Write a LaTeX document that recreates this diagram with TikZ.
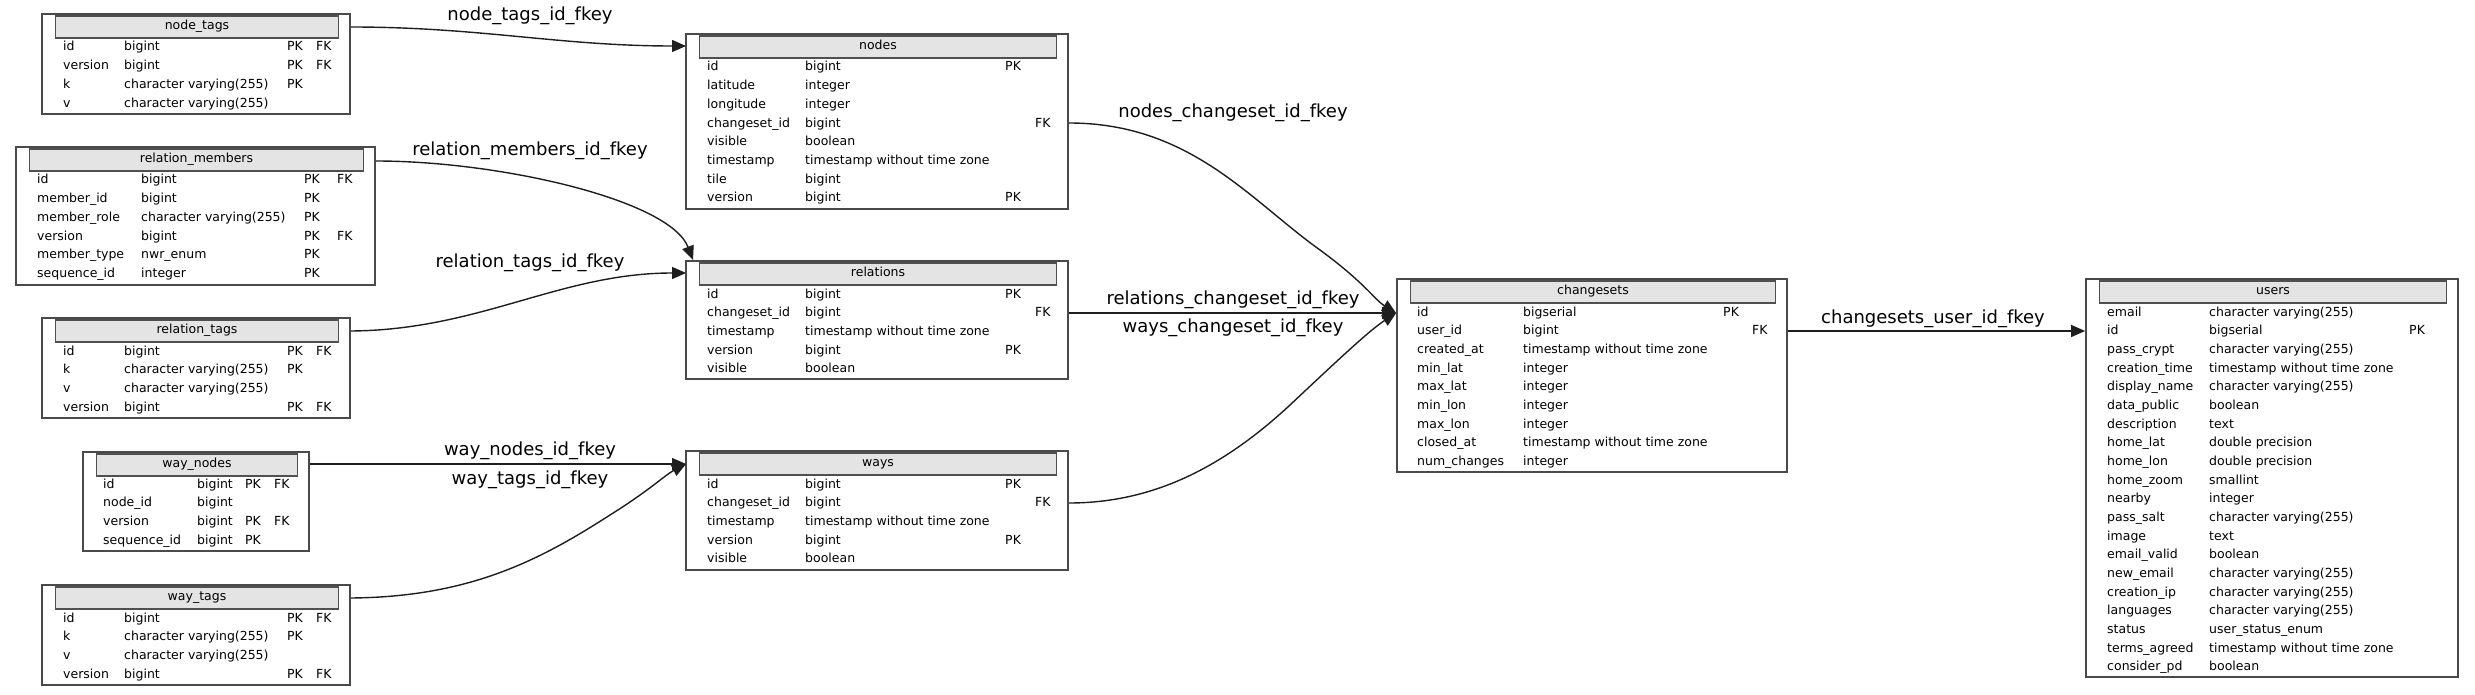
\documentclass[tikz,border=0pt]{standalone}
\usepackage{fontspec}
\setmainfont{DejaVu Sans}
\usetikzlibrary{fit,arrows.meta}
\definecolor{bordergray}{HTML}{4A4A4A}
\definecolor{hdrgray}{HTML}{505050}
\definecolor{hdrfill}{HTML}{E4E4E4}
\definecolor{linecol}{HTML}{1E1E1E}
\tikzset{
  tblbox/.style={draw=bordergray, line width=1.8pt, inner sep=0pt},
  hdrbox/.style={draw=hdrgray, fill=hdrfill, line width=1.8pt, inner sep=0pt},
  cell/.style={anchor=base west, inner sep=0pt, font=\fontsize{12.5}{14}\selectfont},
  ttl/.style={inner sep=0pt, text height=0.75em, text depth=0.25em, font=\fontsize{12.5}{14}\selectfont},
  fkline/.style={draw=linecol, line width=1.4pt, -{Triangle[length=14pt,width=12pt]}},
  fklabel/.style={inner sep=0pt, font=\fontsize{18}{20}\selectfont},
}
\newcommand\tblframe[6]{%
  \node[tblbox, fit={(#2,#3) (#4,#5)}] (#1) {};
  \node[hdrbox, fit={(#2+13.5,#3+2) (#4-11.5,#3+24)}] (#1-hdr) {};
  \node[ttl] (#1-title) at (#1-hdr.center) {#6};
}
\newcommand\trow[6]{%
  \node[cell] (#1-n#2) at (\colN,\rowY+18.68*#2+4) {#3};
  \node[cell] (#1-t#2) at (\colT,\rowY+18.68*#2+4) {#4};
  \if\relax\detokenize{#5}\relax\else\node[cell] (#1-p#2) at (\colP,\rowY+18.68*#2+4) {#5};\fi
  \if\relax\detokenize{#6}\relax\else\node[cell] (#1-f#2) at (\colF,\rowY+18.68*#2+4) {#6};\fi
}
\newcommand\cvar{character varying(255)}
\newcommand\tswtz{timestamp without time zone}
\begin{document}
\begin{tikzpicture}[x=1pt,y=-1pt]
\useasboundingbox (0,0) rectangle (2475,695);

% ---------- node_tags
\tblframe{nodetags}{42}{14}{350}{114}{node\_tags}
\def\colN{63}\def\colT{124}\def\colP{287}\def\colF{316}\def\rowY{47}
\trow{nodetags}{0}{id}{bigint}{PK}{FK}
\trow{nodetags}{1}{version}{bigint}{PK}{FK}
\trow{nodetags}{2}{k}{\cvar}{PK}{}
\trow{nodetags}{3}{v}{\cvar}{}{}

% ---------- relation_members
\tblframe{relmembers}{16}{147}{375}{285}{relation\_members}
\def\colN{37}\def\colT{141}\def\colP{304}\def\colF{337}\def\rowY{180}
\trow{relmembers}{0}{id}{bigint}{PK}{FK}
\trow{relmembers}{1}{member\_id}{bigint}{PK}{}
\trow{relmembers}{2}{member\_role}{\cvar}{PK}{}
\trow{relmembers}{3}{version}{bigint}{PK}{FK}
\trow{relmembers}{4}{member\_type}{nwr\_enum}{PK}{}
\trow{relmembers}{5}{sequence\_id}{integer}{PK}{}

% ---------- relation_tags
\tblframe{reltags}{42}{318}{350}{418}{relation\_tags}
\def\colN{63}\def\colT{124}\def\colP{287}\def\colF{316}\def\rowY{351}
\trow{reltags}{0}{id}{bigint}{PK}{FK}
\trow{reltags}{1}{k}{\cvar}{PK}{}
\trow{reltags}{2}{v}{\cvar}{}{}
\trow{reltags}{3}{version}{bigint}{PK}{FK}

% ---------- way_nodes
\tblframe{waynodes}{83}{452}{309}{551}{way\_nodes}
\def\colN{103}\def\colT{197}\def\colP{245}\def\colF{274}\def\rowY{484}
\trow{waynodes}{0}{id}{bigint}{PK}{FK}
\trow{waynodes}{1}{node\_id}{bigint}{}{}
\trow{waynodes}{2}{version}{bigint}{PK}{FK}
\trow{waynodes}{3}{sequence\_id}{bigint}{PK}{}

% ---------- way_tags
\tblframe{waytags}{42}{585}{350}{685}{way\_tags}
\def\colN{63}\def\colT{124}\def\colP{287}\def\colF{316}\def\rowY{618}
\trow{waytags}{0}{id}{bigint}{PK}{FK}
\trow{waytags}{1}{k}{\cvar}{PK}{}
\trow{waytags}{2}{v}{\cvar}{}{}
\trow{waytags}{3}{version}{bigint}{PK}{FK}

% ---------- nodes
\tblframe{nodes}{686}{34}{1068}{209}{nodes}
\def\colN{707}\def\colT{805}\def\colP{1005}\def\colF{1035}\def\rowY{67}
\trow{nodes}{0}{id}{bigint}{PK}{}
\trow{nodes}{1}{latitude}{integer}{}{}
\trow{nodes}{2}{longitude}{integer}{}{}
\trow{nodes}{3}{changeset\_id}{bigint}{}{FK}
\trow{nodes}{4}{visible}{boolean}{}{}
\trow{nodes}{5}{timestamp}{\tswtz}{}{}
\trow{nodes}{6}{tile}{bigint}{}{}
\trow{nodes}{7}{version}{bigint}{PK}{}

% ---------- relations
\tblframe{relations}{686}{261}{1068}{379}{relations}
\def\rowY{294}
\trow{relations}{0}{id}{bigint}{PK}{}
\trow{relations}{1}{changeset\_id}{bigint}{}{FK}
\trow{relations}{2}{timestamp}{\tswtz}{}{}
\trow{relations}{3}{version}{bigint}{PK}{}
\trow{relations}{4}{visible}{boolean}{}{}

% ---------- ways
\tblframe{ways}{686}{451}{1068}{570}{ways}
\def\rowY{484}
\trow{ways}{0}{id}{bigint}{PK}{}
\trow{ways}{1}{changeset\_id}{bigint}{}{FK}
\trow{ways}{2}{timestamp}{\tswtz}{}{}
\trow{ways}{3}{version}{bigint}{PK}{}
\trow{ways}{4}{visible}{boolean}{}{}

% ---------- changesets
\tblframe{changesets}{1397}{279}{1787}{472}{changesets}
\def\colN{1417}\def\colT{1523}\def\colP{1723}\def\colF{1752}\def\rowY{312}
\trow{changesets}{0}{id}{bigserial}{PK}{}
\trow{changesets}{1}{user\_id}{bigint}{}{FK}
\trow{changesets}{2}{created\_at}{\tswtz}{}{}
\trow{changesets}{3}{min\_lat}{integer}{}{}
\trow{changesets}{4}{max\_lat}{integer}{}{}
\trow{changesets}{5}{min\_lon}{integer}{}{}
\trow{changesets}{6}{max\_lon}{integer}{}{}
\trow{changesets}{7}{closed\_at}{\tswtz}{}{}
\trow{changesets}{8}{num\_changes}{integer}{}{}

% ---------- users
\tblframe{users}{2086}{279}{2458}{677}{users}
\def\colN{2107}\def\colT{2209}\def\colP{2409}\def\colF{2440}\def\rowY{312}
\trow{users}{0}{email}{\cvar}{}{}
\trow{users}{1}{id}{bigserial}{PK}{}
\trow{users}{2}{pass\_crypt}{\cvar}{}{}
\trow{users}{3}{creation\_time}{\tswtz}{}{}
\trow{users}{4}{display\_name}{\cvar}{}{}
\trow{users}{5}{data\_public}{boolean}{}{}
\trow{users}{6}{description}{text}{}{}
\trow{users}{7}{home\_lat}{double precision}{}{}
\trow{users}{8}{home\_lon}{double precision}{}{}
\trow{users}{9}{home\_zoom}{smallint}{}{}
\trow{users}{10}{nearby}{integer}{}{}
\trow{users}{11}{pass\_salt}{\cvar}{}{}
\trow{users}{12}{image}{text}{}{}
\trow{users}{13}{email\_valid}{boolean}{}{}
\trow{users}{14}{new\_email}{\cvar}{}{}
\trow{users}{15}{creation\_ip}{\cvar}{}{}
\trow{users}{16}{languages}{\cvar}{}{}
\trow{users}{17}{status}{user\_status\_enum}{}{}
\trow{users}{18}{terms\_agreed}{\tswtz}{}{}
\trow{users}{19}{consider\_pd}{boolean}{}{}

% ---------- ports
\coordinate (nt-o) at (nodetags.east |- nodetags-title);
\coordinate (nodes-i) at (686,46);
\coordinate (rm-o) at (relmembers.east |- 0,161);
\coordinate (rel-top) at (693,260);
\coordinate (rt-o) at (reltags.east |- reltags-title);
\coordinate (rel-i) at (686,273);
\coordinate (wn-o) at (waynodes.east |- 0,464);
\coordinate (ways-i) at (686,464);
\coordinate (wt-o) at (waytags.east |- waytags-title);
\coordinate (nodes-o) at (nodes.east |- 0,123);
\coordinate (rel-o) at (relations.east |- 0,313);
\coordinate (ways-o) at (ways.east |- 0,503);
\coordinate (cs-i) at (changesets.west |- 0,313);
\coordinate (cs-o) at (changesets.east |- 0,331);
\coordinate (users-i) at (users.west |- 0,331);

% ---------- connectors
\draw[fkline] (nt-o) .. controls (480,27) and (560,46) .. (nodes-i);
\draw[fkline] (rm-o) .. controls (500,161) and (670,200) .. (rel-top);
\draw[fkline] (rt-o) .. controls (480,330) and (560,273) .. (rel-i);
\draw[fkline] (wn-o) -- (ways-i);
\draw[fkline] (wt-o) .. controls (470,597) and (540,560) .. (610,515) .. controls (650,490) and (665,475) .. (ways-i);
\draw[fkline] (nodes-o) .. controls (1190,123) and (1250,200) .. (1320,250) .. controls (1365,283) and (1375,300) .. (cs-i);
\draw[fkline] (rel-o) -- (cs-i);
\draw[fkline] (ways-o) .. controls (1150,503) and (1220,470) .. (1290,405) .. controls (1340,358) and (1370,330) .. (cs-i);
\draw[fkline] (cs-o) -- (users-i);

% ---------- labels
\node[fklabel] (l1) at (530,16) {node\_tags\_id\_fkey};
\node[fklabel] (l2) at (530,151) {relation\_members\_id\_fkey};
\node[fklabel] (l3) at (530,263) {relation\_tags\_id\_fkey};
\node[fklabel] (l4) at (530,451) {way\_nodes\_id\_fkey};
\node[fklabel] (l5) at (530,480) {way\_tags\_id\_fkey};
\node[fklabel] (l6) at (1233,113) {nodes\_changeset\_id\_fkey};
\node[fklabel] (l7) at (1233,300) {relations\_changeset\_id\_fkey};
\node[fklabel] (l8) at (1233,328) {ways\_changeset\_id\_fkey};
\node[fklabel] (l9) at (1933,319) {changesets\_user\_id\_fkey};
\end{tikzpicture}
\end{document}
